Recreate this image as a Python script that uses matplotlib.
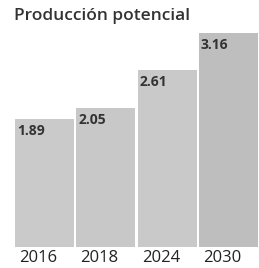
import matplotlib
matplotlib.use("Agg")
from matplotlib import pyplot as plt
from matplotlib import transforms

years = ["2016", "2018", "2024", "2030"]
values = [1.89, 2.05, 2.61, 3.16]
title = "Producción potencial"

bar_colors = ["#cacaca", "#c8c8c8", "#c9c9c9", "#bebebe"]

fig = plt.figure(figsize=(2.59, 2.68), dpi=100)
fig.patch.set_facecolor("white")
ax = fig.add_axes([14 / 259, 21 / 268, 245 / 259, 214 / 268])

x = list(range(len(years)))
ax.bar(x, values, width=0.965, color=bar_colors, edgecolor="none")
ax.set_xlim(-0.5, len(years) - 0.5)
ax.set_ylim(0, max(values))

# value labels just inside the top left of each bar
off = transforms.offset_copy(ax.transData, fig=fig, x=2, y=-5, units="dots")
for xi, v in zip(x, values):
    ax.text(xi - 0.48, v, f"{v:.2f}", transform=off, ha="left", va="top",
            fontsize=10, fontweight="bold", family="Open Sans", color="#333333")

# year labels sit left-aligned under each bar
yoff = transforms.offset_copy(ax.get_xaxis_transform(), fig=fig, x=4, y=-3, units="dots")
for xi, yr in zip(x, years):
    ax.text(xi - 0.48, 0, yr, transform=yoff, ha="left", va="top",
            fontsize=12, family="Open Sans", color="#222222")

ax.set_xticks([])
ax.set_yticks([])
for s in ax.spines.values():
    s.set_visible(False)

fig.text(14 / 259, 1 - 16 / 268, title, ha="left", va="center",
         fontsize=12.5, fontweight="semibold", family="Open Sans", color="#333333")

plt.savefig("out.png", dpi=100)
